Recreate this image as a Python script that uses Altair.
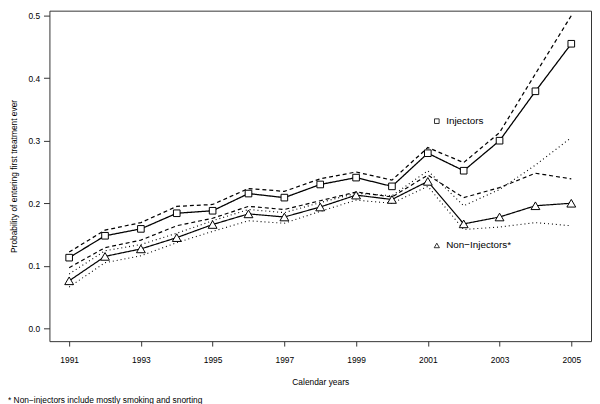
import altair as alt
import pandas as pd

years = list(range(1991, 2006))
tick_years = [1991, 1993, 1995, 1997, 1999, 2001, 2003, 2005]
tick_probs = [0.0, 0.1, 0.2, 0.3, 0.4, 0.5]

injectors = [0.113, 0.148, 0.159, 0.184, 0.188, 0.2155, 0.209, 0.230, 0.241, 0.227,
             0.280, 0.252, 0.300, 0.379, 0.455]
injectors_dashed = [0.122, 0.157, 0.169, 0.195, 0.198, 0.2235, 0.219, 0.239, 0.250, 0.237,
                    0.289, 0.265, 0.313, 0.407, 0.500]
non_injectors = [0.076, 0.115, 0.127, 0.145, 0.166, 0.183, 0.178, 0.194, 0.213, 0.206,
                 0.235, 0.167, 0.178, 0.196, 0.200]
non_dashed = [0.097, 0.129, 0.141, 0.164, 0.176, 0.195, 0.190, 0.204, 0.218, 0.210,
              0.245, 0.209, 0.225, 0.248, 0.239]
non_dotted_upper = [0.087, 0.124, 0.134, 0.152, 0.172, 0.190, 0.185, 0.201, 0.216, 0.212,
                    0.252, 0.196, 0.222, 0.261, 0.305]
non_dotted_lower = [0.066, 0.105, 0.116, 0.137, 0.155, 0.172, 0.168, 0.187, 0.205, 0.200,
                    0.227, 0.158, 0.162, 0.169, 0.164]

legend_labels = ["Injectors", "Non\u2212Injectors*"]
footnote = "* Non\u2212injectors include mostly smoking and snorting"

series_names = ["inj", "inj_dash", "non", "non_dash", "non_dot_up", "non_dot_lo"]
series_values = [injectors, injectors_dashed, non_injectors, non_dashed,
                 non_dotted_upper, non_dotted_lower]

rows = []
for name, vals in zip(series_names, series_values):
    for yr, v in zip(years, vals):
        rows.append({"series": name, "year": yr, "value": v})
lines_df = pd.DataFrame(rows)

inj_df = pd.DataFrame({"year": years, "value": injectors})
non_df = pd.DataFrame({"year": years, "value": non_injectors})

FONT = "Liberation Sans"

x_enc = alt.X(
    "year:Q",
    scale=alt.Scale(domain=[1990.45, 2005.55], nice=False, zero=False),
    axis=alt.Axis(values=tick_years, format="d", title="Calendar years", grid=False,
                  domain=False, tickSize=5, tickColor="#333", labelPadding=10,
                  labelFontSize=8.5, titleFontSize=8.5, titleFontWeight="normal",
                  titlePadding=13, labelColor="black", titleColor="black"),
)
y_enc = alt.Y(
    "value:Q",
    scale=alt.Scale(domain=[-0.0205, 0.5079], nice=False, zero=False),
    axis=alt.Axis(values=tick_probs, format=".1f",
                  title="Probability of entering first treatment ever", grid=False,
                  domain=False, tickSize=6, tickColor="#333", labelPadding=4,
                  labelFontSize=8.5, titleFontSize=8.5, titleFontWeight="normal",
                  titlePadding=10, labelColor="black", titleColor="black"),
)

lines = alt.Chart(lines_df).mark_line(color="black").encode(
    x=x_enc,
    y=y_enc,
    detail="series:N",
    strokeDash=alt.StrokeDash(
        "series:N",
        scale=alt.Scale(domain=series_names,
                        range=[[1, 0], [4, 3], [1, 0], [4, 3], [1, 3], [1, 3]]),
        legend=None),
    strokeWidth=alt.StrokeWidth(
        "series:N",
        scale=alt.Scale(domain=series_names, range=[1.3, 1.1, 1.3, 1.1, 1.0, 1.0]),
        legend=None),
)

inj_pts = alt.Chart(inj_df).mark_point(
    shape="square", filled=True, fill="white", stroke="black", strokeWidth=1,
    size=45, opacity=1
).encode(x="year:Q", y="value:Q")

non_pts = alt.Chart(non_df).mark_point(
    shape="triangle-up", filled=True, fill="white", stroke="black", strokeWidth=1,
    size=80, opacity=1
).encode(x="year:Q", y="value:Q")

# legend (symbol + label), placed in pixel space of the plot area
leg_inj = pd.DataFrame({"label": [legend_labels[0]]})
leg_non = pd.DataFrame({"label": [legend_labels[1]]})


def legend_item(df, shape, size, px, py):
    sym = alt.Chart(df).mark_point(
        shape=shape, filled=True, fill="white", stroke="black", strokeWidth=0.8,
        size=size, opacity=1
    ).encode(x=alt.value(px), y=alt.value(py))
    txt = alt.Chart(df).mark_text(
        align="left", baseline="middle", fontSize=10, font=FONT, color="black"
    ).encode(x=alt.value(px + 9.5), y=alt.value(py), text="label:N")
    return sym + txt


legend_inj = legend_item(leg_inj, "square", 22, 392.7, 112)
legend_non = legend_item(leg_non, "triangle-up", 28, 392.7, 238)

chart = alt.layer(lines, inj_pts, non_pts, legend_inj, legend_non).properties(
    width=549,
    height=335,
    autosize=alt.AutoSizeParams(type="none"),
    padding={"left": 42, "top": 0, "right": 1, "bottom": 61},
    title=alt.TitleParams(
        text=footnote,
        orient="bottom", anchor="start", frame="group", dx=-42, offset=11,
        fontSize=8.5, fontWeight="normal", font=FONT, color="black"),
).configure(font=FONT).configure_view(stroke="#333", strokeWidth=1)

chart.save("out.html", embed_options={"renderer": "svg", "actions": False})
